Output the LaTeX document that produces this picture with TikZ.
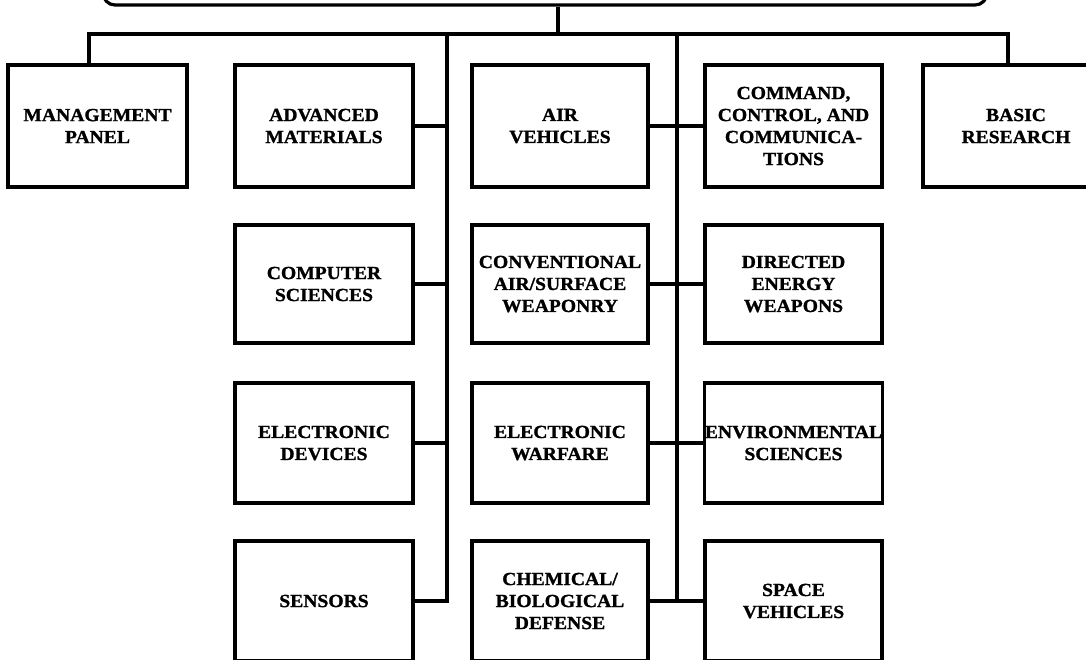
\documentclass[tikz,border=0pt]{standalone}
\usepackage{fontspec}
\setmainfont{Liberation Serif}[BoldFeatures={FakeBold=1.2,FakeStretch=1.06}]
\begin{document}
\begin{tikzpicture}[x=1pt,y=-1pt,
  unitbox/.style={draw=black, line width=3.2pt, rectangle, inner sep=0pt, align=center,
    font=\fontsize{18.5}{22}\selectfont\bfseries, text=black},
  link/.style={draw=black, line width=3.2pt}]
\useasboundingbox (0,0) rectangle (1086,659);
\clip (0,0) rectangle (1086,659);
\fill[white] (0,0) rectangle (1086,659);
% top (cut-off) rounded box
\node[draw=black, line width=3.2pt, rounded corners=12pt, minimum width=884pt, minimum height=40pt, inner sep=0pt] (top) at (545,-15) {};
% row 1
\node[unitbox, minimum width=179pt, minimum height=122pt] (mgmt) at (97.5,126) {MANAGEMENT\\PANEL};
\node[unitbox, minimum width=178pt, minimum height=122pt] (adv) at (324,126) {ADVANCED\\MATERIALS};
\node[unitbox, minimum width=176pt, minimum height=122pt] (air) at (560,126) {AIR\\VEHICLES};
\node[unitbox, minimum width=177pt, minimum height=122pt] (c3) at (793.5,126) {COMMAND,\\CONTROL, AND\\COMMUNICA-\\TIONS};
\node[unitbox, minimum width=186pt, minimum height=122pt] (basic) at (1016,126) {BASIC\\RESEARCH};
% row 2
\node[unitbox, minimum width=178pt, minimum height=118pt] (comp) at (324,284) {COMPUTER\\SCIENCES};
\node[unitbox, minimum width=176pt, minimum height=118pt] (conv) at (560,284) {CONVENTIONAL\\AIR/SURFACE\\WEAPONRY};
\node[unitbox, minimum width=177pt, minimum height=118pt] (dew) at (793.5,284) {DIRECTED\\ENERGY\\WEAPONS};
% row 3
\node[unitbox, minimum width=178pt, minimum height=120pt] (edev) at (324,443) {ELECTRONIC\\DEVICES};
\node[unitbox, minimum width=176pt, minimum height=120pt] (ew) at (560,443) {ELECTRONIC\\WARFARE};
\node[unitbox, minimum width=177pt, minimum height=120pt] (env) at (793.5,443) {ENVIRONMENTAL\\SCIENCES};
% row 4
\node[unitbox, minimum width=178pt, minimum height=120pt] (sens) at (324,601) {SENSORS};
\node[unitbox, minimum width=176pt, minimum height=120pt] (cbd) at (560,601) {CHEMICAL/\\BIOLOGICAL\\DEFENSE};
\node[unitbox, minimum width=177pt, minimum height=120pt] (space) at (793.5,601) {SPACE\\VEHICLES};
% connectors
\coordinate (J) at (558,34);
\coordinate (M) at (89,34);
\coordinate (L) at (447,34);
\coordinate (R) at (677,34);
\coordinate (B) at (1008,34);
\draw[link] (top.south -| J) -- (J);
\draw[link] (M |- mgmt.north) -- (M) -- (B) -- (B |- basic.north);
\draw[link] (L) -- (L |- sens.east) -- (sens.east);
\draw[link] (R) -- (R |- space.west);
\draw[link] (adv.east) -- (adv.east -| L);
\draw[link] (comp.east) -- (comp.east -| L);
\draw[link] (edev.east) -- (edev.east -| L);
\draw[link] (air.east) -- (c3.west);
\draw[link] (conv.east) -- (dew.west);
\draw[link] (ew.east) -- (env.west);
\draw[link] (cbd.east) -- (space.west);
\end{tikzpicture}
\end{document}
